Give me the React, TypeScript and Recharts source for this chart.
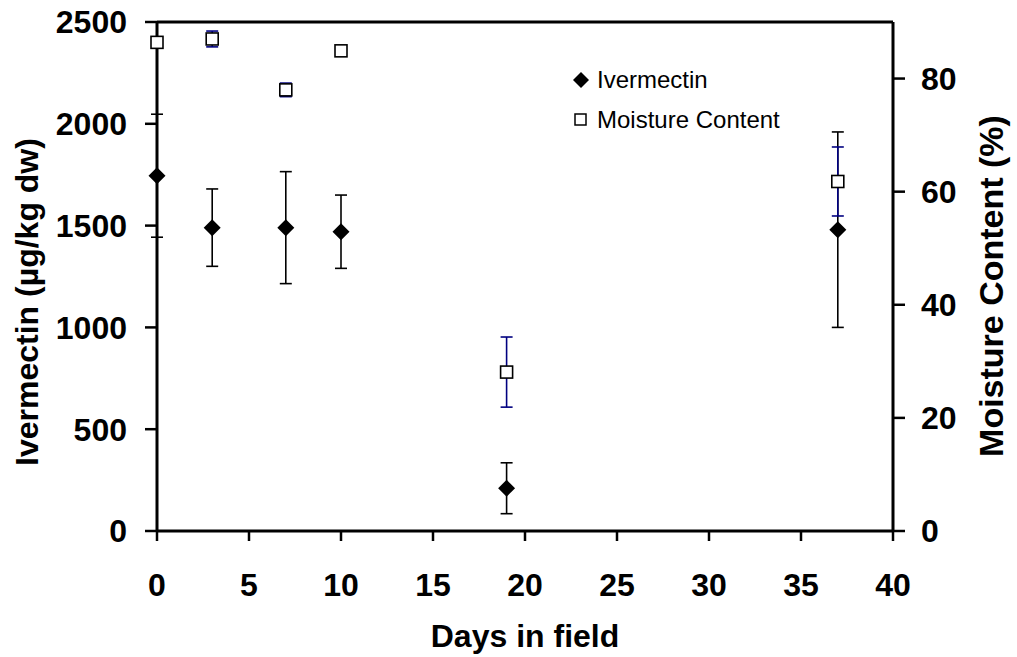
import React from 'react'
import {
  ScatterChart,
  Scatter,
  XAxis,
  YAxis,
  ErrorBar,
  ReferenceLine,
} from 'recharts'

const days = [0, 3, 7, 10, 19, 37]
const ivermectin = [1745, 1490, 1490, 1470, 210, 1480]
const ivermectinErr = [302, 190, 275, 180, 125, 480]
const moisture = [86.4, 87.0, 78.0, 84.9, 28.1, 61.8]
const moistureErr = [0.8, 1.4, 1.2, 0.5, 6.2, 6.1]

const xTicks = [0, 5, 10, 15, 20, 25, 30, 35, 40]
const leftTicks = [0, 500, 1000, 1500, 2000, 2500]
const rightTicks = [0, 20, 40, 60, 80]

const ivermectinData = days.map((d, i) => ({ day: d, value: ivermectin[i], err: ivermectinErr[i] }))
const moistureData = days.map((d, i) => ({ day: d, value: moisture[i], err: moistureErr[i] }))

const FONT = '"Liberation Sans", Arial, sans-serif'
const tickStyle = { fill: '#000', fontSize: 32, fontWeight: 700, fontFamily: FONT }
const axisLine = { stroke: '#000', strokeWidth: 3 }
const tickLine = { stroke: '#000', strokeWidth: 2.5 }

function Diamond({ cx, cy }: { cx?: number; cy?: number }) {
  if (cx == null || cy == null) return null
  const r = 8.5
  return <polygon points={`${cx},${cy - r} ${cx + r},${cy} ${cx},${cy + r} ${cx - r},${cy}`} fill="#000" />
}

function Square({ cx, cy }: { cx?: number; cy?: number }) {
  if (cx == null || cy == null) return null
  return <rect x={cx - 6} y={cy - 6} width={12} height={12} fill="#fff" stroke="#000" strokeWidth={1.6} />
}

function Title({ x, y, angle, size = 32, children }: { x: number; y: number; angle?: number; size?: number; children: string }) {
  return (
    <text
      x={x}
      y={y}
      transform={angle ? `rotate(${angle} ${x} ${y})` : undefined}
      textAnchor="middle"
      dominantBaseline="central"
      fontFamily={FONT}
      fontSize={size}
      fontWeight={700}
      fill="#000"
    >
      {children}
    </text>
  )
}

function LegendBox() {
  const row = {
    fontFamily: FONT,
    fontSize: 24,
    color: '#000',
    height: 40,
    display: 'flex',
    alignItems: 'center',
  }
  return (
    <div style={{ position: 'absolute', left: 570, top: 60 }}>
      <div style={row}>
        <svg width={27} height={20}>
          <polygon points="11,2 19,10 11,18 3,10" fill="#000" />
        </svg>
        <span>Ivermectin</span>
      </div>
      <div style={row}>
        <svg width={27} height={20}>
          <rect x={5} y={4} width={11} height={11} fill="#fff" stroke="#000" strokeWidth={1.5} />
        </svg>
        <span>Moisture Content</span>
      </div>
    </div>
  )
}

export default function App() {
  return (
    <div style={{ position: 'absolute', left: 0, top: 0, width: 1017, height: 657, background: '#fff' }}>
      <ScatterChart width={1017} height={657} margin={{ top: 22, right: 0, bottom: 0, left: 0 }}>
        <XAxis
          dataKey="day"
          type="number"
          domain={[0, 40]}
          ticks={xTicks}
          tick={tickStyle}
          axisLine={axisLine}
          tickLine={tickLine}
          tickSize={10}
          tickMargin={32}
          height={126}
          label={() => <Title x={525} y={636}>Days in field</Title>}
        />
        <YAxis
          yAxisId="left"
          dataKey="value"
          type="number"
          domain={[0, 2500]}
          ticks={leftTicks}
          tick={tickStyle}
          axisLine={axisLine}
          tickLine={tickLine}
          tickSize={12}
          tickMargin={18}
          width={157}
          label={() => <Title x={27} y={302} angle={-90}>Ivermectin (µg/kg dw)</Title>}
        />
        <YAxis
          yAxisId="right"
          orientation="right"
          dataKey="value"
          type="number"
          domain={[0, 90]}
          ticks={rightTicks}
          tick={tickStyle}
          axisLine={axisLine}
          tickLine={tickLine}
          tickSize={12}
          tickMargin={16}
          width={124}
          label={() => <Title x={991} y={286} angle={-90} size={34}>Moisture Content (%)</Title>}
        />
        <ReferenceLine yAxisId="left" y={2500} stroke="#000" strokeWidth={3} />
        <Scatter
          name="Ivermectin"
          yAxisId="left"
          data={ivermectinData}
          dataKey="value"
          shape={<Diamond />}
          isAnimationActive={false}
        >
          <ErrorBar dataKey="err" direction="y" width={6} stroke="#000" strokeWidth={1.6} />
        </Scatter>
        <Scatter
          name="Moisture Content"
          yAxisId="right"
          data={moistureData}
          dataKey="value"
          shape={<Square />}
          isAnimationActive={false}
        >
          <ErrorBar dataKey="err" direction="y" width={6} stroke="#000080" strokeWidth={1.6} />
        </Scatter>
      </ScatterChart>
      <LegendBox />
    </div>
  )
}
